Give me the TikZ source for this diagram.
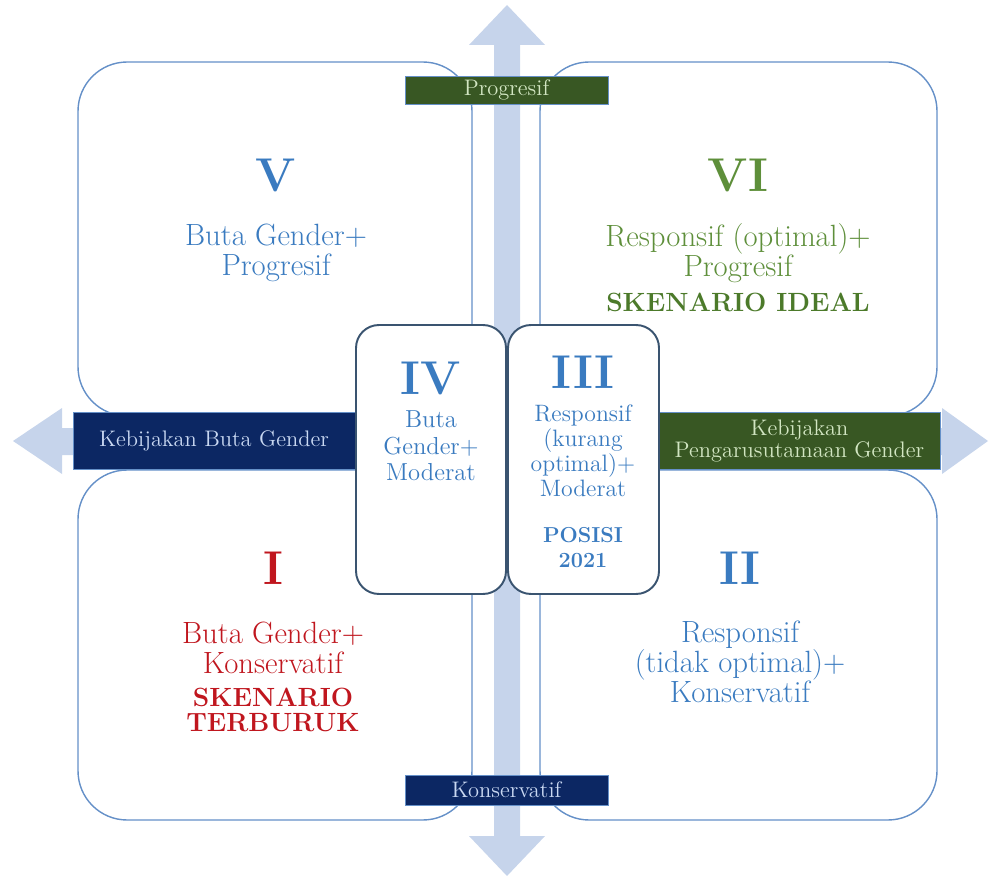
\documentclass[tikz,border=0pt]{standalone}
\usepackage{tikz}
\usetikzlibrary{positioning}
\definecolor{quadline}{HTML}{6590C8}
\definecolor{coreline}{HTML}{3A5470}
\definecolor{axisfill}{HTML}{C6D4EB}
\definecolor{deepnavy}{HTML}{0C2763}
\definecolor{deepforest}{HTML}{385723}
\definecolor{paleblue}{HTML}{C9D8F2}
\definecolor{palegreen}{HTML}{D2E6C2}
\definecolor{txtblue}{HTML}{3A7BC0}
\definecolor{txtgreen}{HTML}{5E8F3A}
\definecolor{boldgreen}{HTML}{4C7A2A}
\definecolor{txtred}{HTML}{C0161E}
\tikzset{
  quad/.style={draw=quadline,line width=0.8pt,rounded corners=28pt,fill=white},
  core/.style={draw=coreline,line width=1.1pt,rounded corners=13pt,fill=white,
               minimum width=3cm,minimum height=5.38cm,inner sep=0pt},
  tag/.style={draw=quadline,line width=0.4pt,inner sep=0pt,align=center,
              font=\fontsize{12.8}{13}\selectfont},
  numeral/.style={inner sep=0pt,font=\fontsize{27}{30}\selectfont\bfseries},
  body/.style={inner sep=0pt,align=center,font=\fontsize{17.5}{17.2}\selectfont},
  slim/.style={inner sep=0pt,align=center,font=\fontsize{14}{15.2}\selectfont},
  stamp/.style={inner sep=0pt,align=center,font=\fontsize{15}{14.5}\selectfont\bfseries}
}
\begin{document}
\begin{tikzpicture}[x=0.02cm,y=-0.02cm]
  \useasboundingbox (0,0) rectangle (990,878);

  % four quadrants
  \draw[quad] (78,62) rectangle (472,416);
  \draw[quad] (540,62) rectangle (937,416);
  \draw[quad] (78,470) rectangle (472,820);
  \draw[quad] (540,470) rectangle (937,820);

  % axes
  \fill[axisfill] (494,836) -- (494,45) -- (469,45) -- (507,5) -- (545,45)
    -- (520,45) -- (520,836) -- (545,836) -- (507,876) -- (469,836) -- cycle;
  \fill[axisfill] (62,428) -- (942,428) -- (942,408) -- (988,441) -- (942,474)
    -- (942,455) -- (62,455) -- (62,474) -- (13,441) -- (62,408) -- cycle;

  \node[tag,fill=deepforest,text=palegreen,minimum width=4.06cm,minimum height=0.56cm]
    (prog) at (506.5,90) {Progresif};
  \node[tag,fill=deepnavy,text=paleblue,minimum width=4.06cm,minimum height=0.6cm]
    (kons) at (506.5,790) {Konservatif};
  \node[tag,fill=deepnavy,text=paleblue,minimum width=5.64cm,minimum height=1.14cm]
    (buta) at (214,441) {Kebijakan Buta Gender};
  \node[tag,fill=deepforest,text=palegreen,minimum width=5.62cm,minimum height=1.14cm]
    (pug) at (799.5,441) {Kebijakan\\Pengarusutamaan Gender};

  % middle boxes
  \node[core] (boxIV) at (431,459.5) {};
  \node[core,minimum width=3.02cm] (boxIII) at (583.5,459.5) {};

  % quadrant V
  \node[numeral,text=txtblue] (numV) at (276,175) {V};
  \node[body,text=txtblue] (txtV) at (276,253) {Buta Gender+\\Progresif};
  % quadrant VI
  \node[numeral,text=txtgreen] (numVI) at (738,175) {VI};
  \node[body,text=txtgreen] (txtVI) at (738,253) {Responsif (optimal)+\\Progresif};
  \node[stamp,text=boldgreen] (ideal) at (738,302) {SKENARIO IDEAL};
  % box IV
  \node[numeral,text=txtblue] (numIV) at (431,378) {IV};
  \node[slim,text=txtblue] (txtIV) at (431,446) {Buta\\Gender+\\Moderat};
  % box III
  \node[numeral,text=txtblue] (numIII) at (583,372) {III};
  \node[slim,text=txtblue,font=\fontsize{13.5}{14.3}\selectfont] (txtIII) at (583,451)
    {Responsif\\(kurang\\optimal)+\\Moderat};
  \node[stamp,text=txtblue,font=\fontsize{12.3}{14.3}\selectfont\bfseries] (posisi)
    at (583,548) {POSISI\\2021};
  % quadrant I
  \node[numeral,text=txtred] (numI) at (273,568) {I};
  \node[body,text=txtred] (txtI) at (273,648) {Buta Gender+\\Konservatif};
  \node[stamp,text=txtred] (worst) at (273,710) {SKENARIO\\TERBURUK};
  % quadrant II
  \node[numeral,text=txtblue] (numII) at (740,568) {II};
  \node[body,text=txtblue] (txtII) at (740,662) {Responsif\\(tidak optimal)+\\Konservatif};
\end{tikzpicture}
\end{document}
